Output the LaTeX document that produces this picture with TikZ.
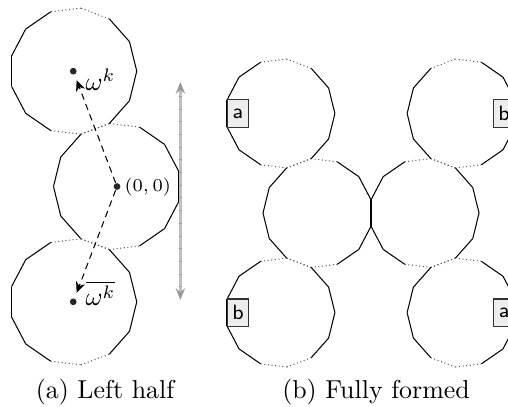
\documentclass[tikz,border=0pt]{standalone}
\usepackage{tikz}
\usetikzlibrary{arrows.meta,positioning,calc}
\usepackage{amsmath,amssymb}

\begin{document}
\begin{tikzpicture}[
  rim/.style={black,line width=0.4pt},
  glued/.style={black!65,densely dotted,line width=0.4pt},
  seam/.style={black,line width=1pt},
  centre/.style={circle,fill=black!85,inner sep=0pt,minimum size=2.6pt},
  lbox/.style={draw=black!80,fill=black!7,font=\footnotesize\sffamily,inner sep=0.5pt,minimum width=8.2pt,minimum height=10.5pt},
  ptr/.style={dash pattern=on 2.5pt off 1.8pt,shorten >=2.2pt,-{Stealth[length=4.2pt,width=3.6pt]}},
  reach/.style={black!25,line width=1pt,{Stealth[length=4.5pt,width=3.6pt,black!40]}-{Stealth[length=4.5pt,width=3.6pt,black!40]}}
]
  \def\ra{0.862}
  \def\rb{0.744}
  \useasboundingbox (-1.588,-2.992) rectangle (5.306,2.531);
  \clip (-1.588,-2.992) rectangle (5.306,2.531);

  % centres, left half
  \coordinate (ma) at (0,0);
  \coordinate (ua) at (-0.594,1.565);
  \coordinate (la) at (-0.594,-1.565);
  % centres, fully formed
  \coordinate (mbl) at (2.725,-0.360);
  \coordinate (mbr) at (4.169,-0.360);
  \coordinate (ubl) at (2.213,0.991);
  \coordinate (lbl) at (2.213,-1.711);
  \coordinate (ubr) at (4.681,0.991);
  \coordinate (lbr) at (4.681,-1.711);

  % 13-gons, edges near the vertical are glued
  \foreach \ctr/\rad/\rot in {ma/\ra/180, ua/\ra/0, la/\ra/0, mbl/\rb/180, mbr/\rb/0, ubl/\rb/0, lbl/\rb/0, ubr/\rb/180, lbr/\rb/180} {
    \foreach \k in {0,...,12} {
      \pgfmathsetmacro{\phia}{\rot+\k*360/13}
      \pgfmathsetmacro{\phib}{\phia+360/13}
      \pgfmathtruncatemacro{\isglued}{abs(sin(\phia+180/13))>0.85}
      \ifnum\isglued=1
        \draw[glued] ($(\ctr)+(\phia:\rad)$) -- ($(\ctr)+(\phib:\rad)$);
      \else
        \draw[rim] ($(\ctr)+(\phia:\rad)$) -- ($(\ctr)+(\phib:\rad)$);
      \fi
    }
  }

  \coordinate (sa) at ($(mbl)+(-180/13:\rb)$);
  \coordinate (sb) at ($(mbl)+(180/13:\rb)$);
  \draw[seam] (sa) -- (sb);

  % left half
  \coordinate (rtop) at (0.86,1.418);
  \coordinate (rbot) at (0.86,-1.540);
  \draw[reach] (rbot) -- (rtop);
  \draw[black!40,line width=1pt,dash pattern=on 0.3pt off 4.6pt,shorten <=5pt,shorten >=5pt] (rbot) -- (rtop);

  \node[centre] (o) at (ma) {};
  \node[centre] (w) at (ua) {};
  \node[centre] (wc) at (la) {};
  \draw[ptr] (o) -- (w);
  \draw[ptr] (o) -- (wc);
  \node[right,inner sep=1.2pt,font=\scriptsize] (zero) at (o.east) {$(0,0)$};
  \node[anchor=west] (wl) at ($(w)!3.5pt!(o)$) {$\omega^k$};
  \node[anchor=west] (wcl) at ($(wc)!3.5pt!(o)$) {$\overline{\omega^k}$};

  % fully formed
  \node[lbox,anchor=west] (tagul) at ($(ubl)+(-0.7224,0)$) {a};
  \node[lbox,anchor=east] (tagur) at ($(ubr)+(0.7224,0)$) {b};
  \node[lbox,anchor=west] (tagll) at ($(lbl)+(-0.7224,0)$) {b};
  \node[lbox,anchor=east] (taglr) at ($(lbr)+(0.7224,0)$) {a};

  \node (capa) at (-0.163,-2.789) {(a) Left half};
  \node (capb) at (3.515,-2.789) {(b) Fully formed};
\end{tikzpicture}
\end{document}
